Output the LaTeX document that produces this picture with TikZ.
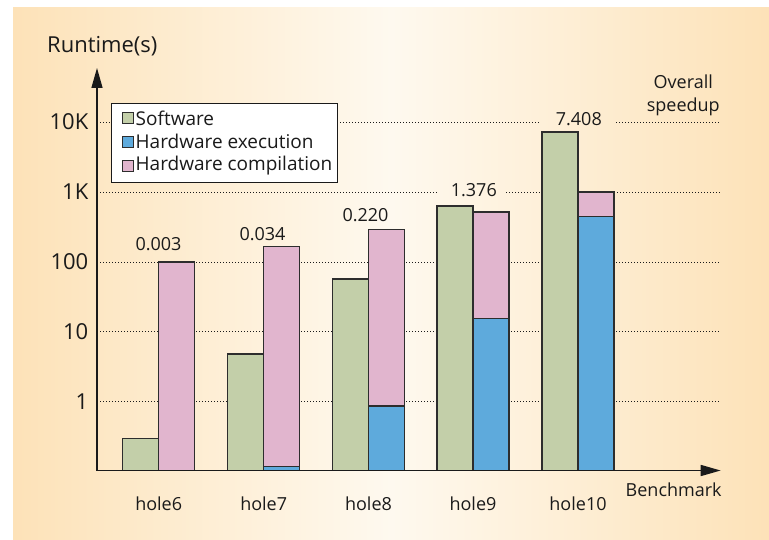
\documentclass[tikz,border=0pt]{standalone}
\usepackage{fontspec}
\setmainfont{Open Sans}
\usetikzlibrary{arrows.meta}

\definecolor{bgedge}{RGB}{253,226,184}
\definecolor{bgmid}{RGB}{254,249,239}
\definecolor{swgreen}{RGB}{195,207,169}
\definecolor{hwblue}{RGB}{94,170,220}
\definecolor{hwpink}{RGB}{225,181,206}
\definecolor{ink}{RGB}{26,26,26}
\definecolor{barline}{RGB}{45,45,45}

\tikzset{
  x=1pt, y=-1pt,
  bar/.style={draw=barline, line width=1.2pt},
  grid line/.style={ink, line width=0.8pt, dash pattern=on 0.8pt off 2.2pt},
  axis/.style={ink, line width=1.4pt, -{Triangle[length=20pt,width=11pt]}},
  tick label/.style={anchor=east, inner sep=0pt, font=\fontsize{22}{24}\selectfont, text=ink},
  small label/.style={inner sep=0pt, font=\fontsize{18}{20}\selectfont, text=ink},
  legend label/.style={inner sep=0pt, anchor=west, font=\fontsize{19}{21}\selectfont, text=ink},
  swatch/.style={draw=barline, line width=0.9pt, minimum size=11pt, inner sep=0pt},
}

\newcommand{\barpair}[5]{%
  % #1 left edge, #2 software top, #3 compilation top, #4 execution top, #5 axis
  \draw[bar, fill=swgreen] (#1,#5) rectangle (#1+36,#2);
  \draw[bar, fill=hwpink] (#1+36,#5) rectangle (#1+72,#3);
  \draw[bar, fill=hwblue] (#1+36,#5) rectangle (#1+72,#4);
}

\begin{document}
\begin{tikzpicture}
\useasboundingbox (0,0) rectangle (769,540);

% background panel
\shade[left color=bgedge, right color=bgedge, middle color=bgmid]
  (13,8) rectangle (769,540);

% decade grid lines (gaps left for the speedup figures)
\draw[grid line] (97,122) -- (540,122);
\draw[grid line] (616,122) -- (720,122);
\draw[grid line] (97,192) -- (438,192);
\draw[grid line] (506,192) -- (720,192);
\draw[grid line] (97,262) -- (720,262);
\draw[grid line] (97,331.7) -- (720,331.7);
\draw[grid line] (97,401.3) -- (720,401.3);

% bars: software | hardware compilation over hardware execution
\draw[bar, fill=swgreen] (122.7,470.5) rectangle (158.7,438.3);
\draw[bar, fill=hwpink] (158.7,470.5) rectangle (194.7,262);
\barpair{227.7}{354}{246.7}{466.3}{470.5}
\barpair{332.5}{279}{229.7}{406}{470.5}
\barpair{437}{206}{212}{318.7}{470.5}
\barpair{542}{132}{192}{216.3}{470.5}

% axes
\coordinate (origin) at (97,470.5);
\coordinate (ytip) at (97,68);
\coordinate (xtip) at (720.7,470.5);
\draw[axis] (origin) -- (ytip);
\draw[axis] (origin) -- (xtip);

% axis titles
\node[anchor=west, inner sep=0pt, font=\fontsize{22}{24}\selectfont, text=ink]
  (ytitle) at (47,46) {Runtime(s)};
\node[small label] (xtitle) at (673.7,489.5) {Benchmark};

% tick labels
\node[tick label] (t10k) at (88.5,122) {10K};
\node[tick label] (t1k) at (88.5,192) {1K};
\node[tick label] (t100) at (88.5,262) {100};
\node[tick label] (t10) at (88.5,331.7) {10};
\node[tick label] (t1) at (88.5,401.3) {1};

% benchmark names
\node[small label] (b6) at (158.7,504) {hole6};
\node[small label] (b7) at (263.7,504) {hole7};
\node[small label] (b8) at (368.5,504) {hole8};
\node[small label] (b9) at (473,504) {hole9};
\node[small label] (b10) at (578,504) {hole10};

% overall speedup figures
\node[small label] (s6) at (158.5,244) {0.003};
\node[small label] (s7) at (262.5,234) {0.034};
\node[small label] (s8) at (365.5,215.5) {0.220};
\node[small label] (s9) at (473.8,190.5) {1.376};
\node[small label] (s10) at (578.8,119) {7.408};
\node[small label, align=center, font=\fontsize{18}{23}\selectfont]
  (speedup) at (683.3,95) {Overall\\speedup};

% legend
\node[draw=ink, fill=white, line width=1pt, minimum width=225.6pt,
      minimum height=79pt, inner sep=0pt] (legend) at (224.5,142.6) {};
\node[swatch, fill=swgreen] (k1) at (127.5,118) {};
\node[swatch, fill=hwblue] (k2) at (127.5,141.7) {};
\node[swatch, fill=hwpink] (k3) at (127.5,165.5) {};
\node[legend label] (l1) at (135.5,118) {Software};
\node[legend label] (l2) at (135.5,141.7) {Hardware execution};
\node[legend label] (l3) at (135.5,165.5) {Hardware compilation};
\end{tikzpicture}
\end{document}
